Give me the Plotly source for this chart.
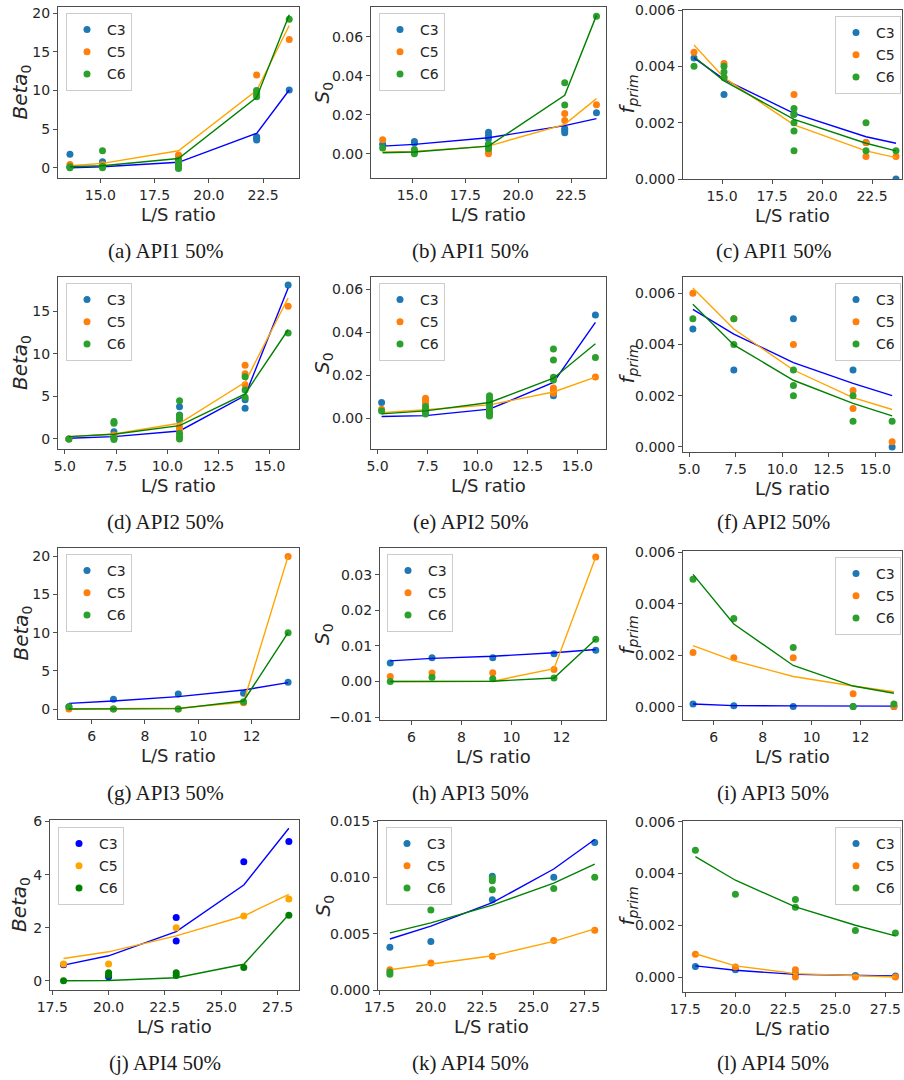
import plotly.graph_objects as go

W, H = 904, 1080

# ---------------------------------------------------------------- data
# L/S ratios of the four APIs
ls_api1 = [13.6, 15.1, 18.6, 22.2, 23.7]
ls_api2 = [5.2, 7.4, 10.6, 13.8, 15.9]
ls_api3 = [5.15, 6.82, 9.25, 11.7, 13.37]
ls_api4 = [18.0, 20.0, 23.0, 26.0, 28.0]

series_names = ["C3", "C5", "C6"]

# measured values: one list of replicates per L/S ratio
# API1
a_c3 = [[1.73, 0.05], [0.78, 0.45], [0.9, 0.5], [4.0, 3.8, 3.6], [10.05]]
a_c5 = [[0.43], [0.43, 0.2], [1.64, 1.43, 1.08, 0.78], [12.0, 9.85], [16.6]]
a_c6 = [[0.0, 0.13], [2.2, 0.0, 0.2], [1.0, 0.55, 0.25, 0.0, -0.1], [10.0, 9.5, 9.2], [19.2]]
b_c3 = [[0.0048], [0.0063, 0.0055], [0.011, 0.0094, 0.0077], [0.0129, 0.012, 0.0108], [0.0211]]
b_c5 = [[0.0072], [0.001], [0.0009, 0.0], [0.0206, 0.0171], [0.0252]]
b_c6 = [[0.0029], [0.0022, 0.0009, 0.0], [0.005, 0.0043, 0.0034, 0.0025], [0.0365, 0.025], [0.0706]]
c_c3 = [[0.0043], [0.003], [0.0023], [0.0013], [0.0]]
c_c5 = [[0.0045], [0.0041, 0.0036], [0.003], [0.0013, 0.0008], [0.0008]]
c_c6 = [[0.004], [0.004, 0.0038, 0.0036], [0.0025, 0.0023, 0.002, 0.0017, 0.001], [0.002, 0.001], [0.001]]
# API2
d_c3 = [[0.0], [0.86, 0.27], [3.8, 2.83, 2.2], [4.6, 3.6], [18.1]]
d_c5 = [[0.0], [0.47], [1.45, 1.14], [8.68, 7.66, 6.36], [15.6]]
d_c6 = [[0.0], [2.04, 1.85, 0.08, -0.05], [4.5, 2.75, 2.43, 0.67, 0.3, 0.0], [7.3, 5.77, 4.9], [12.45]]
e_c3 = [[0.0073], [0.003], [0.007, 0.005, 0.0035, 0.0023], [0.0104, 0.012], [0.048]]
e_c5 = [[0.0042], [0.0093, 0.0082, 0.007], [0.0055, 0.004], [0.014, 0.0129, 0.0116], [0.0191]]
e_c6 = [[0.0034], [0.0054, 0.0042, 0.0031, 0.002],
        [0.0104, 0.0093, 0.0078, 0.0062, 0.0047, 0.0031, 0.0016, 0.001],
        [0.0322, 0.0271, 0.019, 0.0178], [0.0282]]
f_c3 = [[0.0046], [0.003], [0.005], [0.003], [0.0]]
f_c5 = [[0.006], [0.005], [0.004], [0.0022, 0.0015], [0.0002]]
f_c6 = [[0.005], [0.005, 0.004], [0.003, 0.0024, 0.002], [0.002, 0.001], [0.001]]
# API3
g_c3 = [[0.3], [1.27], [1.97], [2.06], [3.5]]
g_c5 = [[0.0], [0.0], [0.0], [0.83], [20.0]]
g_c6 = [[0.3], [0.0], [0.0], [0.96], [10.0]]
h_c3 = [[0.0052], [0.0067], [0.0067], [0.0078], [0.0088]]
h_c5 = [[0.0014], [0.0024], [0.0025], [0.0034], [0.035]]
h_c6 = [[0.0], [0.0012], [0.0008], [0.001], [0.0119]]
i_c3 = [[0.0001], [0.00003], [0.0], [0.0], [0.0]]
i_c5 = [[0.0021], [0.0019], [0.0019], [0.0005], [0.0]]
i_c6 = [[0.00495], [0.00343], [0.0023], [0.0], [0.0001]]
# API4
j_c3 = [[0.6], [0.15], [2.38, 1.5], [4.49], [5.25]]
j_c5 = [[0.63], [0.63], [2.0], [2.44], [3.08]]
j_c6 = [[0.0], [0.3, 0.21], [0.3, 0.2], [0.5], [2.47]]
k_c3 = [[0.0038], [0.0043], [0.0101, 0.008], [0.01], [0.0131]]
k_c5 = [[0.0018], [0.0024], [0.003], [0.0044], [0.0053]]
k_c6 = [[0.0016, 0.0014], [0.0071], [0.0099, 0.0097, 0.0089], [0.009], [0.01]]
l_c3 = [[0.00041], [0.00028], [0.00013], [0.00006], [0.00004]]
l_c5 = [[0.00088], [0.00039], [0.00028, 0.0], [0.0], [0.0]]
l_c6 = [[0.0049], [0.0032], [0.003, 0.0027], [0.0018], [0.0017]]

# fitted curves, evaluated at the same L/S ratios
a_fit = [[0.0, 0.13, 0.7, 4.45, 10.06], [0.26, 0.56, 2.2, 10.0, 18.4], [0.13, 0.26, 1.2, 9.1, 19.8]]
b_fit = [[0.0039, 0.0048, 0.0082, 0.0144, 0.018], [0.0009, 0.0012, 0.0039, 0.0151, 0.0283],
         [0.0005, 0.0009, 0.0039, 0.030, 0.0711]]
c_fit = [[0.0043, 0.00354, 0.00233, 0.0015, 0.00127], [0.00476, 0.0036, 0.00192, 0.001, 0.00076],
         [0.00434, 0.00348, 0.00212, 0.00127, 0.001]]
d_fit = [[0.08, 0.27, 0.94, 5.1, 17.75], [0.27, 0.59, 1.85, 6.67, 16.57], [0.27, 0.55, 1.57, 5.3, 12.84]]
e_fit = [[0.0008, 0.0012, 0.0042, 0.0166, 0.0445], [0.0026, 0.0039, 0.0062, 0.0122, 0.0191],
         [0.002, 0.0034, 0.0073, 0.0186, 0.0346]]
f_fit = [[0.00537, 0.0044, 0.00329, 0.00248, 0.002], [0.0062, 0.0046, 0.003, 0.00192, 0.00146],
         [0.00557, 0.00398, 0.0026, 0.0017, 0.00121]]
g_fit = [[0.74, 1.05, 1.62, 2.49, 3.46], [0.0, 0.0, 0.09, 0.88, 20.0], [0.0, 0.0, 0.05, 1.05, 10.0]]
h_fit = [[0.0058, 0.0065, 0.0071, 0.0081, 0.009], [0.0, 0.0, 0.0001, 0.0036, 0.035],
         [0.0, 0.0, 0.0001, 0.001, 0.0119]]
i_fit = [[0.0001, 0.00004, 0.00003, 0.00002, 0.00002], [0.00237, 0.00179, 0.00117, 0.0008, 0.00058],
         [0.00514, 0.00321, 0.0016, 0.0008, 0.00052]]
j_fit = [[0.59, 0.94, 1.85, 3.61, 5.75], [0.84, 1.09, 1.69, 2.44, 3.26], [0.0, 0.01, 0.11, 0.62, 2.5]]
k_fit = [[0.00453, 0.00567, 0.00775, 0.01074, 0.01336], [0.0018, 0.0023, 0.00304, 0.00432, 0.00543],
         [0.00507, 0.00596, 0.00754, 0.00948, 0.01118]]
l_fit = [[0.00043, 0.00026, 0.0001, 0.00006, 0.00004], [0.0009, 0.00043, 0.00013, 0.00004, 0.0],
         [0.00465, 0.00374, 0.00271, 0.002, 0.00159]]

# tick positions
xt_api1 = [15.0, 17.5, 20.0, 22.5]
xt_api2 = [5.0, 7.5, 10.0, 12.5, 15.0]
xt_api3 = [6, 8, 10, 12]
xt_api4 = [17.5, 20.0, 22.5, 25.0, 27.5]
yt_beta20 = [0, 5, 10, 15, 20]
yt_beta15 = [0, 5, 10, 15]
yt_beta6 = [0, 2, 4, 6]
yt_s006 = [0.0, 0.02, 0.04, 0.06]
yt_s003 = [-0.01, 0.0, 0.01, 0.02, 0.03]
yt_s0015 = [0.0, 0.005, 0.010, 0.015]
yt_f = [0.0, 0.002, 0.004, 0.006]

captions = ["(a) API1 50%", "(b) API1 50%", "(c) API1 50%",
            "(d) API2 50%", "(e) API2 50%", "(f) API2 50%",
            "(g) API3 50%", "(h) API3 50%", "(i) API3 50%",
            "(j) API4 50%", "(k) API4 50%", "(l) API4 50%"]

# ---------------------------------------------------------------- styles
TAB = ["#1f77b4", "#ff7f0e", "#2ca02c"]
NAMED = ["#0000ff", "#ffa500", "#008000"]
FIT = ["#0000ff", "#ffa500", "#008000"]

YLAB_BETA = "<i>Beta</i><sub>0</sub>"
YLAB_S0 = "<i>S</i><sub>0</sub>"
YLAB_F = "<i>f</i><sub><i>prim</i></sub>"

# frame (px): left, right, top, bottom
panels = [
    dict(x=ls_api1, pts=[a_c3, a_c5, a_c6], fit=a_fit, box=(58, 299, 7, 178), xr=[13.05, 24.15], yr=[-1.33, 20.8],
         xt=(xt_api1, 1), yt=(yt_beta20, 0), ylab=YLAB_BETA, ylx=21, leg=(66, 15, "left"), col=TAB),
    dict(x=ls_api1, pts=[b_c3, b_c5, b_c6], fit=b_fit, box=(371, 606, 7, 178), xr=[13.05, 24.15], yr=[-0.0125, 0.0754],
         xt=(xt_api1, 1), yt=(yt_s006, 2), ylab=YLAB_S0, ylx=323, leg=(379, 15, "left"), col=TAB),
    dict(x=ls_api1, pts=[c_c3, c_c5, c_c6], fit=c_fit, box=(683, 902, 10, 179), xr=[13.05, 24.0], yr=[0.0, 0.006],
         xt=(xt_api1, 1), yt=(yt_f, 3), ylab=YLAB_F, ylx=627, leg=(901, 18, "right"), col=TAB),
    dict(x=ls_api2, pts=[d_c3, d_c5, d_c6], fit=d_fit, box=(58, 299, 277, 449), xr=[4.67, 16.43], yr=[-1.18, 19.04],
         xt=(xt_api2, 1), yt=(yt_beta15, 0), ylab=YLAB_BETA, ylx=21, leg=(66, 285, "left"), col=TAB),
    dict(x=ls_api2, pts=[e_c3, e_c5, e_c6], fit=e_fit, box=(371, 606, 277, 449), xr=[4.67, 16.43], yr=[-0.0143, 0.0656],
         xt=(xt_api2, 1), yt=(yt_s006, 2), ylab=YLAB_S0, ylx=323, leg=(379, 285, "left"), col=TAB),
    dict(x=ls_api2, pts=[f_c3, f_c5, f_c6], fit=f_fit, box=(683, 902, 277, 452), xr=[4.67, 16.43], yr=[-0.0002, 0.00663],
         xt=(xt_api2, 1), yt=(yt_f, 3), ylab=YLAB_F, ylx=627, leg=(901, 285, "right"), col=TAB),
    dict(x=ls_api3, pts=[g_c3, g_c5, g_c6], fit=g_fit, box=(58, 299, 548, 719), xr=[4.74, 13.78], yr=[-1.31, 21.1],
         xt=(xt_api3, 0), yt=(yt_beta20, 0), ylab=YLAB_BETA, ylx=21, leg=(66, 556, "left"), col=TAB),
    dict(x=ls_api3, pts=[h_c3, h_c5, h_c6], fit=h_fit, box=(380, 606, 548, 720), xr=[4.74, 13.78], yr=[-0.0108, 0.0375],
         xt=(xt_api3, 0), yt=(yt_s003, 2), ylab=YLAB_S0, ylx=323, leg=(387, 556, "left"), col=TAB),
    dict(x=ls_api3, pts=[i_c3, i_c5, i_c6], fit=i_fit, box=(683, 902, 551, 720), xr=[4.74, 13.7], yr=[-0.00052, 0.00605],
         xt=(xt_api3, 0), yt=(yt_f, 3), ylab=YLAB_F, ylx=627, leg=(901, 559, "right"), col=TAB),
    dict(x=ls_api4, pts=[j_c3, j_c5, j_c6], fit=j_fit, box=(50, 299, 820, 990), xr=[17.4, 28.45], yr=[-0.35, 6.06],
         xt=(xt_api4, 1), yt=(yt_beta6, 0), ylab=YLAB_BETA, ylx=20, leg=(58, 829, "left"), col=NAMED),
    dict(x=ls_api4, pts=[k_c3, k_c5, k_c6], fit=k_fit, box=(378, 606, 821, 990), xr=[17.42, 28.55], yr=[0.0, 0.015],
         xt=(xt_api4, 1), yt=(yt_s0015, 3), ylab=YLAB_S0, ylx=323, leg=(386, 829, "left"), col=TAB),
    dict(x=ls_api4, pts=[l_c3, l_c5, l_c6], fit=l_fit, box=(683, 902, 821, 992), xr=[17.38, 28.33], yr=[-0.00058, 0.00603],
         xt=(xt_api4, 1), yt=(yt_f, 3), ylab=YLAB_F, ylx=627, leg=(901, 829, "right"), col=TAB),
]

caption_y = [251, 522, 793, 1063]
caption_x = [165, 470, 773]

TICK_FONT = dict(family="DejaVu Sans", size=14, color="#262626")
AX_COLOR = "#4d4d4d"


def fmt(v, d):
    s = f"{v:.{d}f}"
    return s.replace("-", "\u2212")


def px_x(p):
    return p / W


def px_y(p):
    return 1 - p / H


fig = go.Figure()
annotations = []
layout = {}

for idx, p in enumerate(panels):
    n = idx + 1
    sfx = "" if n == 1 else str(n)
    xa, ya = "x" + sfx, "y" + sfx
    legname = "legend" + sfx
    for s in range(3):
        xs, ys = [], []
        for xv, reps in zip(p["x"], p["pts"][s]):
            for r in reps:
                xs.append(xv)
                ys.append(r)
        fig.add_trace(go.Scatter(
            x=xs, y=ys, mode="markers", name=series_names[s],
            marker=dict(color=p["col"][s], size=7, line=dict(width=0)),
            xaxis=xa, yaxis=ya, legend=legname, legendgroup=f"{n}-{s}",
            showlegend=True, cliponaxis=True))
        fig.add_trace(go.Scatter(
            x=p["x"], y=p["fit"][s], mode="lines",
            line=dict(color=FIT[s], width=1.4),
            xaxis=xa, yaxis=ya, legend=legname, legendgroup=f"{n}-{s}",
            showlegend=False, hoverinfo="skip"))

    x0, x1, y0, y1 = p["box"]
    xtv, xd = p["xt"]
    ytv, yd = p["yt"]
    axis_common = dict(
        showline=True, linecolor=AX_COLOR, linewidth=1, mirror=True,
        ticks="outside", ticklen=4, tickwidth=1, tickcolor=AX_COLOR,
        showgrid=False, zeroline=False, tickfont=TICK_FONT, automargin=False,
    )
    layout["xaxis" + sfx] = dict(
        domain=[px_x(x0), px_x(x1)], range=p["xr"], anchor=ya,
        tickvals=xtv, ticktext=[fmt(v, xd) for v in xtv], **axis_common)
    layout["yaxis" + sfx] = dict(
        domain=[px_y(y1), px_y(y0)], range=p["yr"], anchor=xa,
        tickvals=ytv, ticktext=[fmt(v, yd) for v in ytv], **axis_common)

    lx, ly, side = p["leg"]
    layout[legname] = dict(
        x=px_x(lx), y=px_y(ly - 2), xanchor=side, yanchor="top",
        bgcolor="rgba(255,255,255,0.8)", bordercolor="#cccccc", borderwidth=1,
        font=dict(family="DejaVu Sans", size=14, color="#262626"),
        tracegroupgap=1, itemwidth=30,
    )

    # axis titles
    annotations.append(dict(
        x=px_x((x0 + x1) / 2), y=px_y(y1 + 36), xref="paper", yref="paper",
        text="L/S ratio", showarrow=False, xanchor="center", yanchor="middle",
        font=dict(family="DejaVu Sans", size=18, color="#262626")))
    annotations.append(dict(
        x=px_x(p["ylx"]), y=px_y((y0 + y1) / 2), xref="paper", yref="paper",
        text=p["ylab"], showarrow=False, textangle=-90, xanchor="center", yanchor="middle",
        font=dict(family="DejaVu Sans", size=20, color="#262626")))
    # caption below the panel
    annotations.append(dict(
        x=px_x(caption_x[idx % 3]), y=px_y(caption_y[idx // 3]), xref="paper", yref="paper",
        text=captions[idx], showarrow=False, xanchor="center", yanchor="middle",
        font=dict(family="Liberation Serif", size=21, color="#1a1a1a")))

fig.update_layout(
    template="none",
    width=W, height=H, margin=dict(l=0, r=0, t=0, b=0, autoexpand=False),
    paper_bgcolor="white", plot_bgcolor="white",
    annotations=annotations, **layout,
)

fig.write_html("out.html")
